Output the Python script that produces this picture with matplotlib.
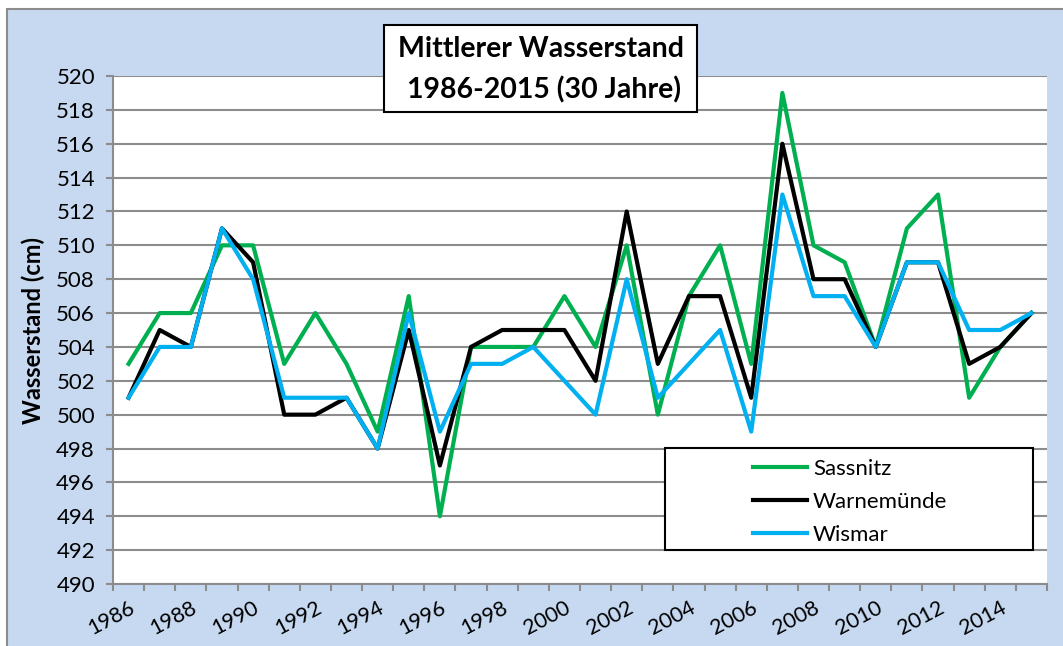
import numpy as np
import matplotlib
matplotlib.use('Agg')
import matplotlib.pyplot as plt
from matplotlib.patches import Rectangle

plt.rcParams['font.family'] = ['Lato', 'DejaVu Sans']

# Data: mean water level (cm), 1986-2015
years = list(range(1986, 2016))
sassnitz = [503, 506, 506, 510, 510, 503, 506, 503, 499, 507,
            494, 504, 504, 504, 507, 504, 510, 500, 507, 510,
            503, 519, 510, 509, 504, 511, 513, 501, 504, 506]
warnemuende = [501, 505, 504, 511, 509, 500, 500, 501, 498, 505,
               497, 504, 505, 505, 505, 502, 512, 503, 507, 507,
               501, 516, 508, 508, 504, 509, 509, 503, 504, 506]
wismar = [501, 504, 504, 511, 508, 501, 501, 501, 498, 506,
          499, 503, 503, 504, 502, 500, 508, 501, 503, 505,
          499, 513, 507, 507, 504, 509, 509, 505, 505, 506]
tick_years = years[::2]

W, H = 1063, 646
fig = plt.figure(figsize=(W / 100, H / 100), dpi=100)
fig.patch.set_facecolor('white')

# light blue chart background with grey frame
fig.patches.append(Rectangle((7 / W, -0.01), 1.0, 1.01 - 9 / H, transform=fig.transFigure,
                             facecolor='#C6D9F0', edgecolor='#8C8C8C', lw=1.5, zorder=-1))

ax = fig.add_axes([113 / W, 1 - 584 / H, (1047 - 113) / W, (584 - 76) / H])
ax.set_facecolor('white')

x = np.arange(len(years))
ax.plot(x, sassnitz, color='#00B050', lw=3, label='Sassnitz', zorder=3)
ax.plot(x, warnemuende, color='black', lw=3, label='Warnemünde', zorder=3)
ax.plot(x, wismar, color='#00B0F0', lw=3, label='Wismar', zorder=3)

ax.set_xlim(-0.5, len(years) - 0.5)
ax.set_ylim(490, 520)
ax.set_yticks(np.arange(490, 521, 2))
ax.yaxis.grid(True, color='#8C8C8C', lw=1.5)
ax.set_axisbelow(True)

ax.set_xticks(np.arange(-0.5, len(years), 1))
ax.set_xticklabels([])
ax.set_xticks([years.index(y) for y in tick_years], minor=True)
ax.set_xticklabels([str(y) for y in tick_years], minor=True, rotation=28,
                   ha='right', rotation_mode='anchor', fontsize=15.5)
ax.tick_params(axis='x', which='major', direction='out', length=5, width=1.5, color='#8C8C8C')
ax.tick_params(axis='x', which='minor', length=0, pad=10)
ax.tick_params(axis='y', direction='out', length=5, width=1.5, color='#8C8C8C',
               labelsize=16, pad=8)

for side in ['top', 'right']:
    ax.spines[side].set_visible(False)
for side in ['left', 'bottom']:
    ax.spines[side].set_color('#8C8C8C')
    ax.spines[side].set_linewidth(1.5)

ax.set_ylabel('Wasserstand (cm)', fontsize=17, fontweight='bold', labelpad=8)

# title box
fig.patches.append(Rectangle((384 / W, 1 - 112 / H), 313 / W, 87 / H, transform=fig.transFigure,
                             facecolor='white', edgecolor='black', lw=1.5, zorder=5))
fig.text(541 / W, 1 - 49 / H, 'Mittlerer Wasserstand', ha='center', va='center',
         fontsize=20.5, fontweight='bold', zorder=6)
fig.text(544 / W, 1 - 90 / H, '1986-2015 (30 Jahre)', ha='center', va='center',
         fontsize=20.5, fontweight='bold', zorder=6)

# legend box
ax.add_patch(Rectangle((665 / W, 1 - 550 / H), 368 / W, 102 / H, transform=fig.transFigure,
                       facecolor='white', edgecolor='black', lw=1.5, zorder=4))
leg = ax.legend(loc='upper left', bbox_to_anchor=(733 / W, 1 - 439 / H),
                bbox_transform=fig.transFigure, frameon=False, fontsize=16,
                handlelength=2.45, handletextpad=0.25, labelspacing=0.58)
leg.set_zorder(6)

fig.savefig('out.png', dpi=100)
